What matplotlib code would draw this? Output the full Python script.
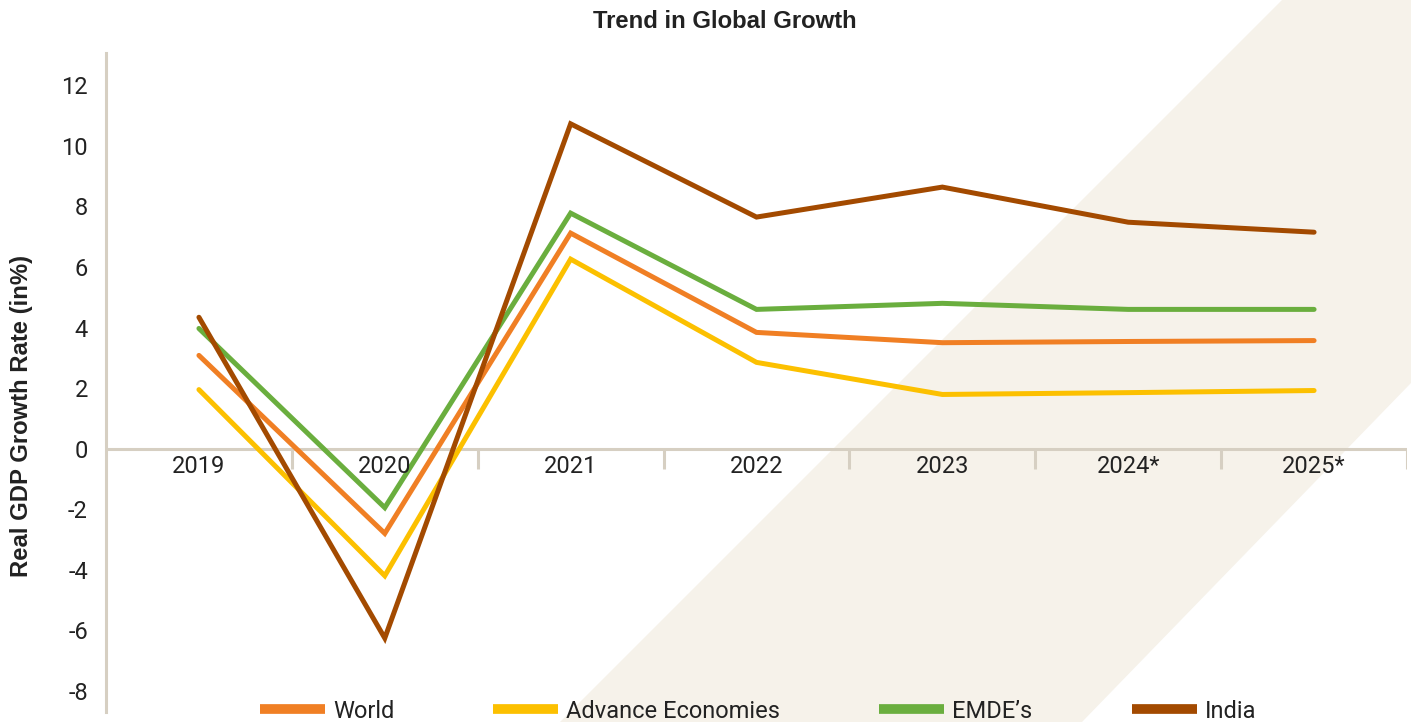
import matplotlib
matplotlib.use("Agg")
import matplotlib.pyplot as plt
from matplotlib.patches import Polygon
import numpy as np

plt.rcParams["axes.unicode_minus"] = False

# data
years = ["2019", "2020", "2021", "2022", "2023", "2024*", "2025*"]
world = [3.08, -2.8, 7.12, 3.84, 3.5, 3.54, 3.57]
advance = [1.95, -4.2, 6.26, 2.85, 1.79, 1.85, 1.92]
emde = [3.97, -1.95, 7.78, 4.6, 4.8, 4.6, 4.6]
india = [4.34, -6.26, 10.73, 7.65, 8.64, 7.48, 7.15]
y_ticks = [-8, -6, -4, -2, 0, 2, 4, 6, 8, 10, 12]

series = [
    ("World", world, "#f07f24"),
    ("Advance Economies", advance, "#fcc000"),
    ("EMDE\u2019s", emde, "#6aae3e"),
    ("India", india, "#a34a00"),
]

W, H = 1411, 722
narrow = ["Roboto", "DejaVu Sans"]
bold = ["Liberation Sans", "DejaVu Sans"]
axis_col = "#d6cfc2"
text_col = "#222222"
fs = 17

fig = plt.figure(figsize=(W / 100, H / 100), dpi=100)

# beige diagonal band in the background (figure pixel coords)
band = [(1282, 0), (1411, 0), (1411, 383), (1082, 722), (560, 722)]
fig.add_artist(Polygon([(x / W, 1 - y / H) for x, y in band], closed=True,
                       transform=fig.transFigure, facecolor="#f6f2ea",
                       edgecolor="none", zorder=-5))

ax = fig.add_axes([106 / W, 10 / H, (1407 - 106) / W, (712 - 53) / H])
ax.set_facecolor("none")

x = np.arange(len(years))
for name, vals, col in series:
    ax.plot(x, vals, color=col, lw=3.6, solid_capstyle="round",
            solid_joinstyle="miter", label=name, zorder=3)

ax.set_xlim(-0.5, len(years) - 0.5)
ax.set_ylim(-8.7, 13.07)

# zero line with category separators
ax.axhline(0, color=axis_col, lw=2.2, zorder=1)
ax.vlines(np.arange(len(years)) + 0.5, -0.66, 0, color=axis_col, lw=2.2, zorder=1)
for i, lab in enumerate(years):
    ax.text(i, -0.6, lab, ha="center", va="center", fontsize=fs,
            family=narrow, color=text_col)

for s in ["top", "right", "bottom"]:
    ax.spines[s].set_visible(False)
ax.spines["left"].set_color(axis_col)
ax.spines["left"].set_linewidth(2.2)
ax.set_xticks([])
ax.set_yticks(y_ticks)
ax.tick_params(axis="y", length=0, pad=13, labelcolor=text_col)
for t in ax.get_yticklabels():
    t.set_fontsize(fs)
    t.set_family(narrow)

fig.text(725 / W, 1 - 22 / H, "Trend in Global Growth", ha="center",
         va="center", fontsize=17.2, fontweight="bold", family=bold, color=text_col)
fig.text(22 / W, 1 - 416 / H, "Real GDP Growth Rate (in%)", rotation=90,
         ha="center", va="center", fontsize=17.2, fontweight="bold",
         family=bold, color=text_col)

leg = fig.legend(loc="center", bbox_to_anchor=(758 / W, 1 - 711 / H), ncol=4,
                 frameon=False, prop={"family": narrow, "size": fs},
                 handlelength=2.75, handletextpad=0.34, columnspacing=4.2,
                 borderaxespad=0, borderpad=0)
for h in leg.get_lines():
    h.set_linewidth(7)
    h.set_solid_capstyle("butt")
for t in leg.get_texts():
    t.set_color(text_col)

fig.savefig("out.png", dpi=100)
